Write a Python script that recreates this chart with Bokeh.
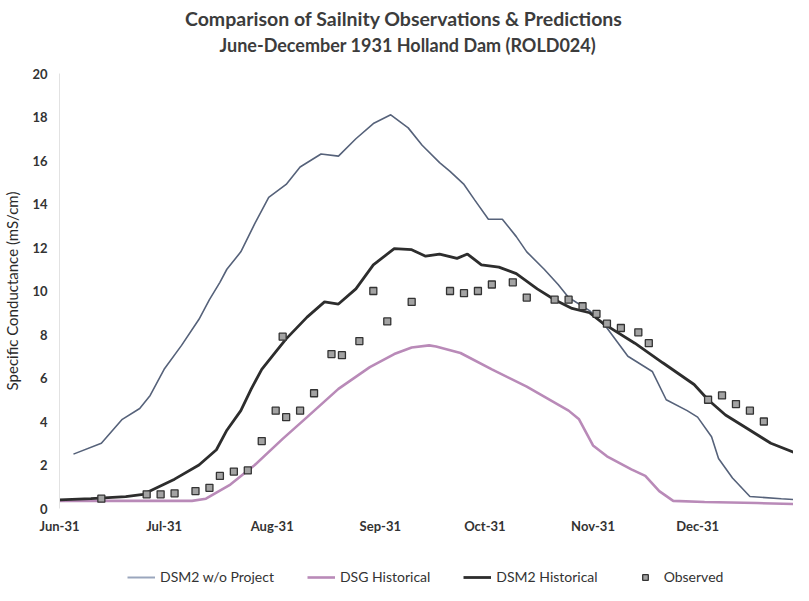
import math
import pandas as pd
from datetime import datetime
from bokeh.plotting import figure
from bokeh.layouts import column
from bokeh.models import (Range1d, Label, Legend, LegendItem, MonthsTicker,
                          DatetimeTickFormatter)
from bokeh.embed import file_html
from bokeh.resources import INLINE

FONT = "Lato"

# ---- data ----
title_text = "Comparison of Sailnity Observations & Predictions"
subtitle_text = "June-December 1931 Holland Dam (ROLD024)"
y_axis_title = "Specific Conductance (mS/cm)"
series_names = ["DSM2 w/o Project", "DSG Historical", "DSM2 Historical", "Observed"]

wo_dates = ["1931-06-05", "1931-06-13", "1931-06-19", "1931-06-24", "1931-06-27", "1931-07-01",
            "1931-07-06", "1931-07-11", "1931-07-14", "1931-07-17", "1931-07-19", "1931-07-23",
            "1931-07-27", "1931-07-31", "1931-08-05", "1931-08-09", "1931-08-15", "1931-08-20",
            "1931-08-25", "1931-08-30", "1931-09-04", "1931-09-09", "1931-09-13", "1931-09-18",
            "1931-09-21", "1931-09-25", "1931-09-28", "1931-10-02", "1931-10-06", "1931-10-10",
            "1931-10-13", "1931-10-18", "1931-10-22", "1931-10-25", "1931-10-31", "1931-11-05",
            "1931-11-11", "1931-11-18", "1931-11-22", "1931-11-28", "1931-12-01", "1931-12-05",
            "1931-12-07", "1931-12-11", "1931-12-16", "1931-12-25", "1931-12-30"]
wo_vals = [2.5, 3.0, 4.1, 4.6, 5.2, 6.4,
           7.5, 8.7, 9.6, 10.4, 11.0, 11.8,
           13.1, 14.3, 14.9, 15.7, 16.3, 16.2,
           17.0, 17.7, 18.1, 17.5, 16.7, 15.9,
           15.5, 14.9, 14.2, 13.3, 13.3, 12.5,
           11.8, 11.0, 10.3, 9.7, 9.1, 8.3,
           7.0, 6.3, 5.0, 4.5, 4.2, 3.3,
           2.3, 1.4, 0.55, 0.45, 0.4]

dsg_dates = ["1931-06-01", "1931-06-14", "1931-06-29", "1931-07-09", "1931-07-13", "1931-07-20",
             "1931-07-27", "1931-08-04", "1931-08-11", "1931-08-20", "1931-08-29", "1931-09-05",
             "1931-09-10", "1931-09-15", "1931-09-17", "1931-09-24", "1931-10-03", "1931-10-13",
             "1931-10-25", "1931-10-28", "1931-11-01", "1931-11-05", "1931-11-12", "1931-11-16",
             "1931-11-20", "1931-11-24", "1931-12-03", "1931-12-18", "1931-12-30"]
dsg_vals = [0.35, 0.35, 0.35, 0.35, 0.45, 1.1,
            2.0, 3.2, 4.2, 5.5, 6.5, 7.1,
            7.4, 7.5, 7.45, 7.15, 6.4, 5.6,
            4.5, 4.1, 2.9, 2.4, 1.8, 1.5,
            0.8, 0.35, 0.3, 0.25, 0.2]

hist_dates = ["1931-06-01", "1931-06-10", "1931-06-20", "1931-06-25", "1931-07-04", "1931-07-11",
              "1931-07-16", "1931-07-19", "1931-07-23", "1931-07-26", "1931-07-29", "1931-08-02",
              "1931-08-05", "1931-08-11", "1931-08-16", "1931-08-20", "1931-08-25", "1931-08-30",
              "1931-09-05", "1931-09-10", "1931-09-14", "1931-09-18", "1931-09-23", "1931-09-26",
              "1931-09-30", "1931-10-05", "1931-10-10", "1931-10-16", "1931-10-21", "1931-10-26",
              "1931-10-31", "1931-11-04", "1931-11-13", "1931-11-21", "1931-11-30", "1931-12-04",
              "1931-12-09", "1931-12-15", "1931-12-22", "1931-12-30"]
hist_vals = [0.4, 0.45, 0.55, 0.65, 1.35, 2.0,
             2.7, 3.6, 4.5, 5.5, 6.4, 7.2,
             7.8, 8.8, 9.5, 9.4, 10.1, 11.2,
             11.95, 11.9, 11.6, 11.7, 11.5, 11.7,
             11.2, 11.1, 10.8, 10.1, 9.6, 9.2,
             9.0, 8.5, 7.6, 6.7, 5.7, 5.0,
             4.3, 3.7, 3.0, 2.5]

obs_dates = ["1931-06-13", "1931-06-26", "1931-06-30", "1931-07-04", "1931-07-10", "1931-07-14",
             "1931-07-17", "1931-07-21", "1931-07-25", "1931-07-29", "1931-08-02", "1931-08-04",
             "1931-08-05", "1931-08-09", "1931-08-13", "1931-08-18", "1931-08-21", "1931-08-26",
             "1931-08-30", "1931-09-03", "1931-09-10", "1931-09-21", "1931-09-25", "1931-09-29",
             "1931-10-03", "1931-10-09", "1931-10-13", "1931-10-21", "1931-10-25", "1931-10-29",
             "1931-11-02", "1931-11-05", "1931-11-09", "1931-11-14", "1931-11-17", "1931-12-04",
             "1931-12-08", "1931-12-12", "1931-12-16", "1931-12-20"]
obs_vals = [0.45, 0.65, 0.65, 0.7, 0.8, 0.95,
            1.5, 1.7, 1.75, 3.1, 4.5, 7.9,
            4.2, 4.5, 5.3, 7.1, 7.05, 7.7,
            10.0, 8.6, 9.5, 10.0, 9.9, 10.0,
            10.3, 10.4, 9.7, 9.6, 9.6, 9.3,
            8.95, 8.5, 8.3, 8.1, 7.6, 5.0,
            5.2, 4.8, 4.5, 4.0]

y_ticks = [0, 2, 4, 6, 8, 10, 12, 14, 16, 18, 20]

WO_COLOR, WO_KEY_COLOR = "#56627a", "#9aa6bd"
DSG_COLOR, HIST_COLOR = "#b98ab8", "#2d2d2d"
OBS_FILL, OBS_LINE = "#a3a3a3", "#333333"
TEXT_COLOR = "#333333"

W = 793
LEFT = 47

# ---- title strip ----
tf = figure(width=W, height=60, output_backend="svg", toolbar_location=None,
            x_range=Range1d(0, W - LEFT), y_range=Range1d(0, 60),
            x_axis_location=None, y_axis_location=None,
            min_border_left=LEFT, min_border_right=0, min_border_top=0, min_border_bottom=0)
tf.grid.visible = False
tf.outline_line_color = None
tf.add_layout(Label(x=350, y=42, text=title_text, text_align="center", text_baseline="middle",
                    text_font=FONT, text_font_size="19.5px", text_font_style="bold",
                    text_color="#3c3c3c"))
tf.add_layout(Label(x=354, y=16, text=subtitle_text, text_align="center", text_baseline="middle",
                    text_font=FONT, text_font_size="18px", text_font_style="bold",
                    text_color="#3c3c3c"))

# ---- main chart ----
p = figure(width=W, height=495, x_axis_type="datetime",
           output_backend="svg", toolbar_location=None,
           x_range=Range1d(datetime(1931, 6, 1), datetime(1931, 12, 28, 12)),
           y_range=Range1d(0, 20),
           min_border_left=LEFT, min_border_right=0, min_border_top=13, min_border_bottom=47)

p.line(pd.to_datetime(wo_dates), wo_vals, line_color=WO_COLOR, line_width=1.6)
p.line(pd.to_datetime(dsg_dates), dsg_vals, line_color=DSG_COLOR, line_width=2.6)
p.line(pd.to_datetime(hist_dates), hist_vals, line_color=HIST_COLOR, line_width=2.8)
p.scatter(pd.to_datetime(obs_dates), obs_vals, marker="square", size=7,
          fill_color=OBS_FILL, line_color=OBS_LINE, line_width=1.3)

p.xaxis.ticker = MonthsTicker(months=list(range(12)))
p.xaxis.formatter = DatetimeTickFormatter(months="%b-%y", days="%b-%y")
p.yaxis.ticker = y_ticks

for ax in (p.xaxis, p.yaxis):
    ax.major_tick_line_color = None
    ax.minor_tick_line_color = None
    ax.major_label_text_font = FONT
    ax.major_label_text_font_size = "13px"
    ax.major_label_text_font_style = "bold"
    ax.major_label_text_color = TEXT_COLOR
p.xaxis.axis_line_color = None
p.yaxis.axis_line_color = "#e2e2e2"
p.xaxis.major_label_standoff = 3
p.yaxis.major_label_standoff = 6
p.yaxis.axis_label = y_axis_title
p.yaxis.axis_label_text_font = FONT
p.yaxis.axis_label_text_font_size = "15px"
p.yaxis.axis_label_text_font_style = "normal"
p.yaxis.axis_label_text_color = "#2a2a2a"
p.yaxis.axis_label_standoff = 8

p.grid.grid_line_color = None
p.outline_line_color = None

# ---- legend strip below the chart ----
lg = figure(width=W, height=30, output_backend="svg", toolbar_location=None,
            x_range=Range1d(0, 1), y_range=Range1d(0, 1),
            x_axis_location=None, y_axis_location=None,
            min_border_left=LEFT, min_border_right=0, min_border_top=0, min_border_bottom=0)
lg.grid.visible = False
lg.outline_line_color = None
nan = [math.nan]
k_wo = lg.line(nan, nan, line_color=WO_KEY_COLOR, line_width=2)
k_dsg = lg.line(nan, nan, line_color=DSG_COLOR, line_width=2.6)
k_hist = lg.line(nan, nan, line_color=HIST_COLOR, line_width=2.8)
k_obs = lg.scatter(nan, nan, marker="square", size=7, fill_color=OBS_FILL,
                   line_color=OBS_LINE, line_width=1.3)
legend = Legend(items=[LegendItem(label=series_names[0], renderers=[k_wo]),
                       LegendItem(label=series_names[1], renderers=[k_dsg]),
                       LegendItem(label=series_names[2], renderers=[k_hist]),
                       LegendItem(label=series_names[3], renderers=[k_obs])],
                orientation="horizontal", location=(68, 0),
                border_line_color=None, background_fill_alpha=0,
                label_text_font=FONT, label_text_font_size="14px",
                label_text_color=TEXT_COLOR, glyph_width=28, glyph_height=14,
                label_height=14, spacing=33, margin=0, padding=1)
lg.add_layout(legend, "center")

open("out.html", "w").write(file_html(column(tf, p, lg), INLINE))
